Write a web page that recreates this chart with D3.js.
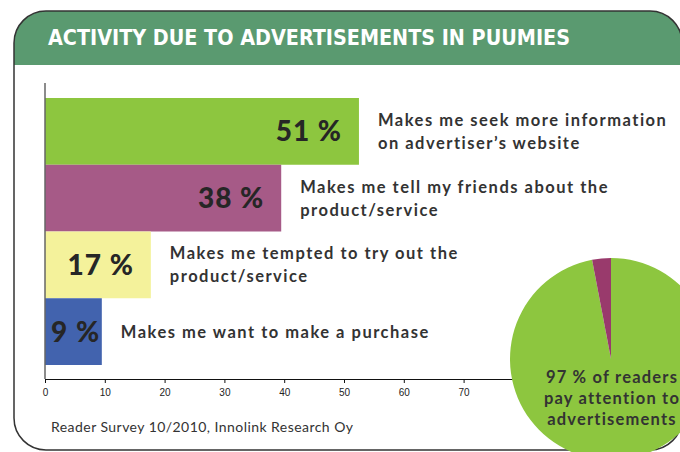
<!DOCTYPE html>
<html>
<head>
<meta charset="utf-8">
<script src="https://cdn.jsdelivr.net/npm/d3@7"></script>
<style>
  body { margin: 0; background: #fff; }
  svg { display: block; }
</style>
</head>
<body>
<svg id="chart" width="680" height="452"></svg>
<script>
// answers, top to bottom
var answers = [
    ["Makes me seek more information", "on advertiser\u2019s website"],
    ["Makes me tell my friends about the", "product/service"],
    ["Makes me tempted to try out the", "product/service"],
    ["Makes me want to make a purchase"]
];
var percentLabels = ["51 %", "38 %", "17 %", "9 %"];
// bar lengths as drawn in the picture
var barValues = [52.5, 39.5, 17.7, 9.5];
var barColors = ["#8dc63f", "#a65a87", "#f4f29b", "#4263ae"];
var xTicks = [0, 10, 20, 30, 40, 50, 60, 70, 80];

var pieValues = [97, 3];
var pieColors = ["#8dc63f", "#993a6c"];
var pieText = ["97 % of readers", "pay attention to", "advertisements"];

var title = "ACTIVITY DUE TO ADVERTISEMENTS IN PUUMIES";
var source = "Reader Survey 10/2010, Innolink Research Oy";

var svg = d3.select("#chart");
var textFont = "Lato, 'Open Sans', sans-serif";

// frame + header
svg.append("clipPath").attr("id", "frameClip")
    .append("rect")
    .attr("x", 14).attr("y", 11)
    .attr("width", 668).attr("height", 439)
    .attr("rx", 32).attr("ry", 32);

svg.append("rect")
    .attr("x", 14).attr("y", 11)
    .attr("width", 680).attr("height", 54)
    .attr("clip-path", "url(#frameClip)")
    .attr("fill", "#5a9a70");

svg.append("rect")
    .attr("x", 14).attr("y", 11)
    .attr("width", 668).attr("height", 439)
    .attr("rx", 32).attr("ry", 32)
    .attr("fill", "none")
    .attr("stroke", "#333")
    .attr("stroke-width", 1.5);

svg.append("text")
    .attr("x", 48).attr("y", 45)
    .attr("textLength", 522)
    .attr("lengthAdjust", "spacingAndGlyphs")
    .style("font-family", "'Liberation Sans Narrow', 'DejaVu Sans Condensed', sans-serif")
    .style("font-weight", "bold")
    .style("font-size", "22px")
    .attr("fill", "#fff")
    .text(title);

// scales
const xScale = d3.scaleLinear()
    .domain([0, 80])
    .range([45, 523.4]);

const yScale = d3.scaleBand()
    .domain(d3.range(answers.length))
    .range([98, 365])
    .padding(0);

const axisY = 379;

// bars
svg.selectAll("rect.bar")
    .data(barValues)
    .enter()
    .append("rect")
    .attr("class", "bar")
    .attr("x", xScale(0))
    .attr("y", (d, i) => yScale(i))
    .attr("width", d => xScale(d) - xScale(0))
    .attr("height", yScale.bandwidth())
    .attr("fill", (d, i) => barColors[i]);

// y axis line
svg.append("line")
    .attr("x1", xScale(0)).attr("x2", xScale(0))
    .attr("y1", 83).attr("y2", axisY)
    .attr("stroke", "#666")
    .attr("stroke-width", 1.5);

// x axis
var xAxis = svg.append("g")
    .attr("transform", "translate(0," + axisY + ")")
    .call(d3.axisBottom(xScale).tickValues(xTicks).tickSize(4).tickSizeOuter(0).tickPadding(6));

xAxis.select(".domain").attr("stroke", "#111").attr("stroke-width", 1.2);
xAxis.selectAll(".tick line").attr("stroke", "#111");
xAxis.selectAll("text")
    .style("font-family", "'Liberation Sans', Arial, sans-serif")
    .style("font-size", "10px")
    .attr("fill", "#222");

// percent labels inside bars
barValues.forEach(function(v, i) {
    var cy = yScale(i) + yScale.bandwidth() / 2;
    var t = svg.append("text")
        .attr("y", cy)
        .attr("dy", "0.36em")
        .attr("text-anchor", "end")
        .style("font-family", textFont)
        .style("font-weight", "900")
        .style("font-size", "28px")
        .style("letter-spacing", "1px")
        .attr("fill", "#262626")
        .text(percentLabels[i]);
    var w = t.node().getComputedTextLength();
    t.attr("x", Math.max(xScale(v) - 17, xScale(0) + 6 + w));

    var lines = answers[i];
    lines.forEach(function(line, j) {
        svg.append("text")
            .attr("x", xScale(v) + 19)
            .attr("y", cy + 6 + (j - (lines.length - 1) / 2) * 23)
            .style("font-family", textFont)
            .style("font-weight", "bold")
            .style("font-size", "16.5px")
            .style("letter-spacing", "1.5px")
            .attr("fill", "#333")
            .text(line);
    });
});

// source
svg.append("text")
    .attr("x", 51).attr("y", 432)
    .style("font-family", textFont)
    .style("font-size", "14px")
    .style("letter-spacing", "0.45px")
    .attr("fill", "#333")
    .text(source);

// pie
const pieCx = 611, pieCy = 359, pieR = 101;
var pie = d3.pie().sort(null);
var arc = d3.arc().innerRadius(0).outerRadius(pieR);

svg.append("g")
    .attr("transform", "translate(" + pieCx + "," + pieCy + ")")
    .selectAll("path")
    .data(pie(pieValues))
    .enter()
    .append("path")
    .attr("d", arc)
    .attr("fill", (d, i) => pieColors[i]);

pieText.forEach(function(line, j) {
    svg.append("text")
        .attr("x", pieCx + 1)
        .attr("y", 383 + j * 21)
        .attr("text-anchor", "middle")
        .style("font-family", textFont)
        .style("font-weight", "bold")
        .style("font-size", "16.5px")
        .style("letter-spacing", "1.2px")
        .attr("fill", "#333")
        .text(line);
});
</script>
</body>
</html>
